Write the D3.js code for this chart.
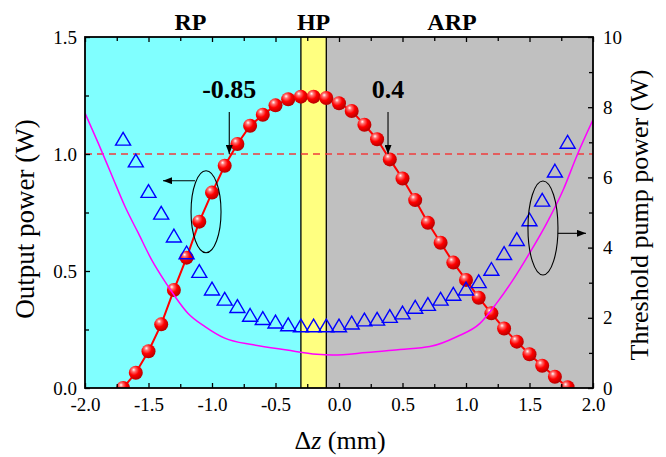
<!DOCTYPE html>
<html>
<head>
<meta charset="utf-8">
<script src="https://cdn.jsdelivr.net/npm/d3@7"></script>
<style>
  body { margin: 0; background: #fff; }
  svg { display: block; font-family: "Liberation Serif", "Times New Roman", serif; }
</style>
</head>
<body>
<div id="chart"></div>
<script>
// z offsets (mm), same grid for both measured series
const dz = [-1.7, -1.6, -1.5, -1.4, -1.3, -1.2, -1.1, -1.0, -0.9, -0.8, -0.7, -0.6,
  -0.5, -0.4, -0.3, -0.2, -0.1, 0.0, 0.1, 0.2, 0.3, 0.4, 0.5, 0.6, 0.7, 0.8, 0.9,
  1.0, 1.1, 1.2, 1.3, 1.4, 1.5, 1.6, 1.7, 1.8];

// output power (W), left axis
const outputPower = [0.0, 0.065, 0.157, 0.272, 0.419, 0.557, 0.711, 0.835, 0.95, 1.043,
  1.121, 1.168, 1.208, 1.234, 1.245, 1.245, 1.239, 1.217, 1.184, 1.125, 1.063, 0.977,
  0.895, 0.803, 0.706, 0.621, 0.536, 0.462, 0.386, 0.319, 0.254, 0.198, 0.144, 0.095,
  0.048, 0.003];

// measured threshold pump power (W), right axis
const thresholdPump = [7.1, 6.48, 5.61, 4.99, 4.34, 3.86, 3.33, 2.83, 2.54, 2.33, 2.08,
  1.99, 1.89, 1.81, 1.78, 1.78, 1.78, 1.78, 1.86, 1.95, 1.97, 2.05, 2.15, 2.31, 2.39,
  2.54, 2.68, 2.83, 3.04, 3.39, 3.84, 4.24, 4.8, 5.36, 6.19, 7.01];

// calculated threshold curve [dz, W], right axis
const thresholdCalc = [[-2.0, 7.83], [-1.895, 6.97], [-1.79, 6.07], [-1.685, 5.17],
  [-1.58, 4.41], [-1.475, 3.65], [-1.37, 3.03], [-1.29, 2.6], [-1.19, 2.13],
  [-1.055, 1.75], [-0.9, 1.42], [-0.675, 1.23], [-0.41, 1.08], [-0.175, 0.96],
  [-0.05, 0.94], [0.215, 1.01], [0.48, 1.1], [0.715, 1.18], [0.927, 1.46],
  [1.11, 1.84], [1.24, 2.41], [1.37, 3.08], [1.5, 3.84], [1.635, 4.69],
  [1.765, 5.64], [1.87, 6.59], [2.0, 7.64]];

const regions = [
  { name: "RP", from: -2.0, to: -0.3, labelAt: -1.17, color: "#80ffff" },
  { name: "HP", from: -0.3, to: -0.1, labelAt: -0.2, color: "#ffff80" },
  { name: "ARP", from: -0.1, to: 2.0, labelAt: 0.89, color: "#c0c0c0" }
];
const boundaries = [-0.3, -0.1];
const refPower = 1.0;

const leftTicks = [0.0, 0.5, 1.0, 1.5];
const rightTicks = [0, 2, 4, 6, 8, 10];
const xTicks = [-2.0, -1.5, -1.0, -0.5, 0.0, 0.5, 1.0, 1.5, 2.0];

// annotations in data units (left axis for y)
const callouts = [
  { text: "-0.85", x: -0.864, yText: 1.239, yFrom: 1.179, yTo: 1.0 },
  { text: "0.4", x: 0.386, yText: 1.239, yFrom: 1.179, yTo: 1.0 }
];
const groupMarks = [
  { cx: -1.047, cy: 0.753, rx: 15, ry: 41, x1: -1.134, x2: -1.386, y: 0.886 },
  { cx: 1.606, cy: 0.684, rx: 15, ry: 47, x1: 1.724, x2: 1.945, y: 0.661 }
];

const W = 666, H = 457;
const margin = { top: 37, right: 73, bottom: 69, left: 85 },
  width = W - margin.left - margin.right,
  height = H - margin.top - margin.bottom;

const x = d3.scaleLinear().domain([-2, 2]).range([0, width]);
const yL = d3.scaleLinear().domain([0, 1.5]).range([height, 0]);
const yR = d3.scaleLinear().domain([0, 10]).range([height, 0]);

const svg = d3.select("#chart").append("svg").attr("width", W).attr("height", H);

const defs = svg.append("defs");
const grad = defs.append("radialGradient").attr("id", "ball")
  .attr("cx", "38%").attr("cy", "35%").attr("r", "65%")
  .attr("fx", "35%").attr("fy", "28%");
grad.append("stop").attr("offset", "0%").attr("stop-color", "#ffffff");
grad.append("stop").attr("offset", "22%").attr("stop-color", "#ff7070");
grad.append("stop").attr("offset", "55%").attr("stop-color", "#ff0000");
grad.append("stop").attr("offset", "100%").attr("stop-color", "#b80000");

defs.append("marker").attr("id", "head")
  .attr("markerUnits", "userSpaceOnUse")
  .attr("markerWidth", 10).attr("markerHeight", 7)
  .attr("refX", 9).attr("refY", 3.5).attr("orient", "auto")
  .append("path").attr("d", "M0,0L9,3.5L0,7Z").attr("fill", "#000");

defs.append("clipPath").attr("id", "clip")
  .append("rect").attr("width", width).attr("height", height);

const g = svg.append("g").attr("transform", "translate(" + margin.left + "," + margin.top + ")");

// shaded regions
g.append("g").selectAll("rect").data(regions).enter().append("rect")
  .attr("x", d => x(d.from)).attr("y", 0)
  .attr("width", d => x(d.to) - x(d.from)).attr("height", height)
  .attr("fill", d => d.color);

g.append("g").selectAll("line").data(boundaries).enter().append("line")
  .attr("x1", d => x(d)).attr("x2", d => x(d))
  .attr("y1", 0).attr("y2", height)
  .attr("stroke", "#000").attr("stroke-width", 1.3);

g.selectAll(".region-label").data(regions).enter().append("text")
  .attr("class", "region-label")
  .attr("x", d => x(d.labelAt)).attr("y", -7)
  .attr("text-anchor", "middle")
  .style("font-size", "24px").style("font-weight", "bold")
  .text(d => d.name);

const plot = g.append("g").attr("clip-path", "url(#clip)");

plot.append("line")
  .attr("x1", 0).attr("x2", width)
  .attr("y1", yL(refPower)).attr("y2", yL(refPower))
  .attr("stroke", "#f03c3c").attr("stroke-width", 1.5)
  .attr("stroke-dasharray", "7,5");

const pts = dz.map((d, i) => ({ dz: d, p: outputPower[i], t: thresholdPump[i] }));

plot.append("path").datum(pts)
  .attr("d", d3.line().x(d => x(d.dz)).y(d => yL(d.p)))
  .attr("fill", "none").attr("stroke", "#ff0000").attr("stroke-width", 2);

plot.append("g").selectAll("circle").data(pts).enter().append("circle")
  .attr("cx", d => x(d.dz)).attr("cy", d => yL(d.p)).attr("r", 7)
  .attr("fill", "url(#ball)");

plot.append("path").datum(thresholdCalc)
  .attr("d", d3.line().curve(d3.curveMonotoneX).x(d => x(d[0])).y(d => yR(d[1])))
  .attr("fill", "none").attr("stroke", "#ff00ff").attr("stroke-width", 1.5);

const tri = "M0,-6.5L7.5,6.3L-7.5,6.3Z";
plot.append("g").selectAll("path").data(pts).enter().append("path")
  .attr("transform", d => "translate(" + x(d.dz) + "," + yR(d.t) + ")")
  .attr("d", tri)
  .attr("fill", "none").attr("stroke", "#0000ff").attr("stroke-width", 1.4);

// callouts
g.selectAll(".callout").data(callouts).enter().append("text")
  .attr("class", "callout")
  .attr("x", d => x(d.x)).attr("y", d => yL(d.yText))
  .attr("text-anchor", "middle")
  .style("font-size", "26px").style("font-weight", "bold")
  .text(d => d.text);

g.selectAll(".callout-arrow").data(callouts).enter().append("line")
  .attr("class", "callout-arrow")
  .attr("x1", d => x(d.x)).attr("x2", d => x(d.x))
  .attr("y1", d => yL(d.yFrom)).attr("y2", d => yL(d.yTo))
  .attr("stroke", "#000").attr("stroke-width", 1.1)
  .attr("marker-end", "url(#head)");

g.selectAll(".group-ellipse").data(groupMarks).enter().append("ellipse")
  .attr("class", "group-ellipse")
  .attr("cx", d => x(d.cx)).attr("cy", d => yL(d.cy))
  .attr("rx", d => d.rx).attr("ry", d => d.ry)
  .attr("fill", "none").attr("stroke", "#000").attr("stroke-width", 1.1);

g.selectAll(".group-arrow").data(groupMarks).enter().append("line")
  .attr("class", "group-arrow")
  .attr("x1", d => x(d.x1)).attr("x2", d => x(d.x2))
  .attr("y1", d => yL(d.y)).attr("y2", d => yL(d.y))
  .attr("stroke", "#000").attr("stroke-width", 1.1)
  .attr("marker-end", "url(#head)");

// axes
const fmt1 = d => d.toFixed(1);
const styleAxis = sel => {
  sel.attr("font-family", null).attr("font-size", null);
  sel.select(".domain").remove();
  sel.selectAll("line").attr("stroke", "#000").attr("stroke-width", 1.3);
  sel.selectAll("text").style("font-size", "19px").attr("fill", "#000");
};

g.append("g").attr("transform", "translate(0," + height + ")")
  .call(d3.axisBottom(x).tickValues(xTicks).tickFormat(fmt1).tickSize(-5).tickPadding(10))
  .call(styleAxis);
g.append("g").attr("transform", "translate(0," + height + ")")
  .call(d3.axisBottom(x).tickValues(d3.range(-1.75, 2, 0.5)).tickFormat("").tickSize(-4))
  .call(styleAxis);
g.append("g")
  .call(d3.axisTop(x).tickValues(xTicks).tickFormat("").tickSize(-5))
  .call(styleAxis);
g.append("g")
  .call(d3.axisTop(x).tickValues(d3.range(-1.75, 2, 0.5)).tickFormat("").tickSize(-4))
  .call(styleAxis);

g.append("g")
  .call(d3.axisLeft(yL).tickValues(leftTicks).tickFormat(fmt1).tickSize(-5).tickPadding(8))
  .call(styleAxis);
g.append("g")
  .call(d3.axisLeft(yL).tickValues([0.25, 0.75, 1.25]).tickFormat("").tickSize(-4))
  .call(styleAxis);

g.append("g").attr("transform", "translate(" + width + ",0)")
  .call(d3.axisRight(yR).tickValues(rightTicks).tickFormat(d3.format("d")).tickSize(-5).tickPadding(10))
  .call(styleAxis);
g.append("g").attr("transform", "translate(" + width + ",0)")
  .call(d3.axisRight(yR).tickValues([1, 3, 5, 7, 9]).tickFormat("").tickSize(-4))
  .call(styleAxis);

g.append("rect")
  .attr("width", width).attr("height", height)
  .attr("fill", "none").attr("stroke", "#000").attr("stroke-width", 1.8);

// axis titles
svg.append("text")
  .attr("transform", "translate(34,219) rotate(-90)")
  .attr("text-anchor", "middle").style("font-size", "27px")
  .text("Output power (W)");

svg.append("text")
  .attr("transform", "translate(648,215) rotate(-90)")
  .attr("text-anchor", "middle").style("font-size", "26px")
  .text("Threshold pump power (W)");

const xt = svg.append("text")
  .attr("x", 340).attr("y", 449)
  .attr("text-anchor", "middle").style("font-size", "26px");
xt.append("tspan").text("\u0394");
xt.append("tspan").style("font-style", "italic").text("z");
xt.append("tspan").text(" (mm)");
</script>
</body>
</html>
